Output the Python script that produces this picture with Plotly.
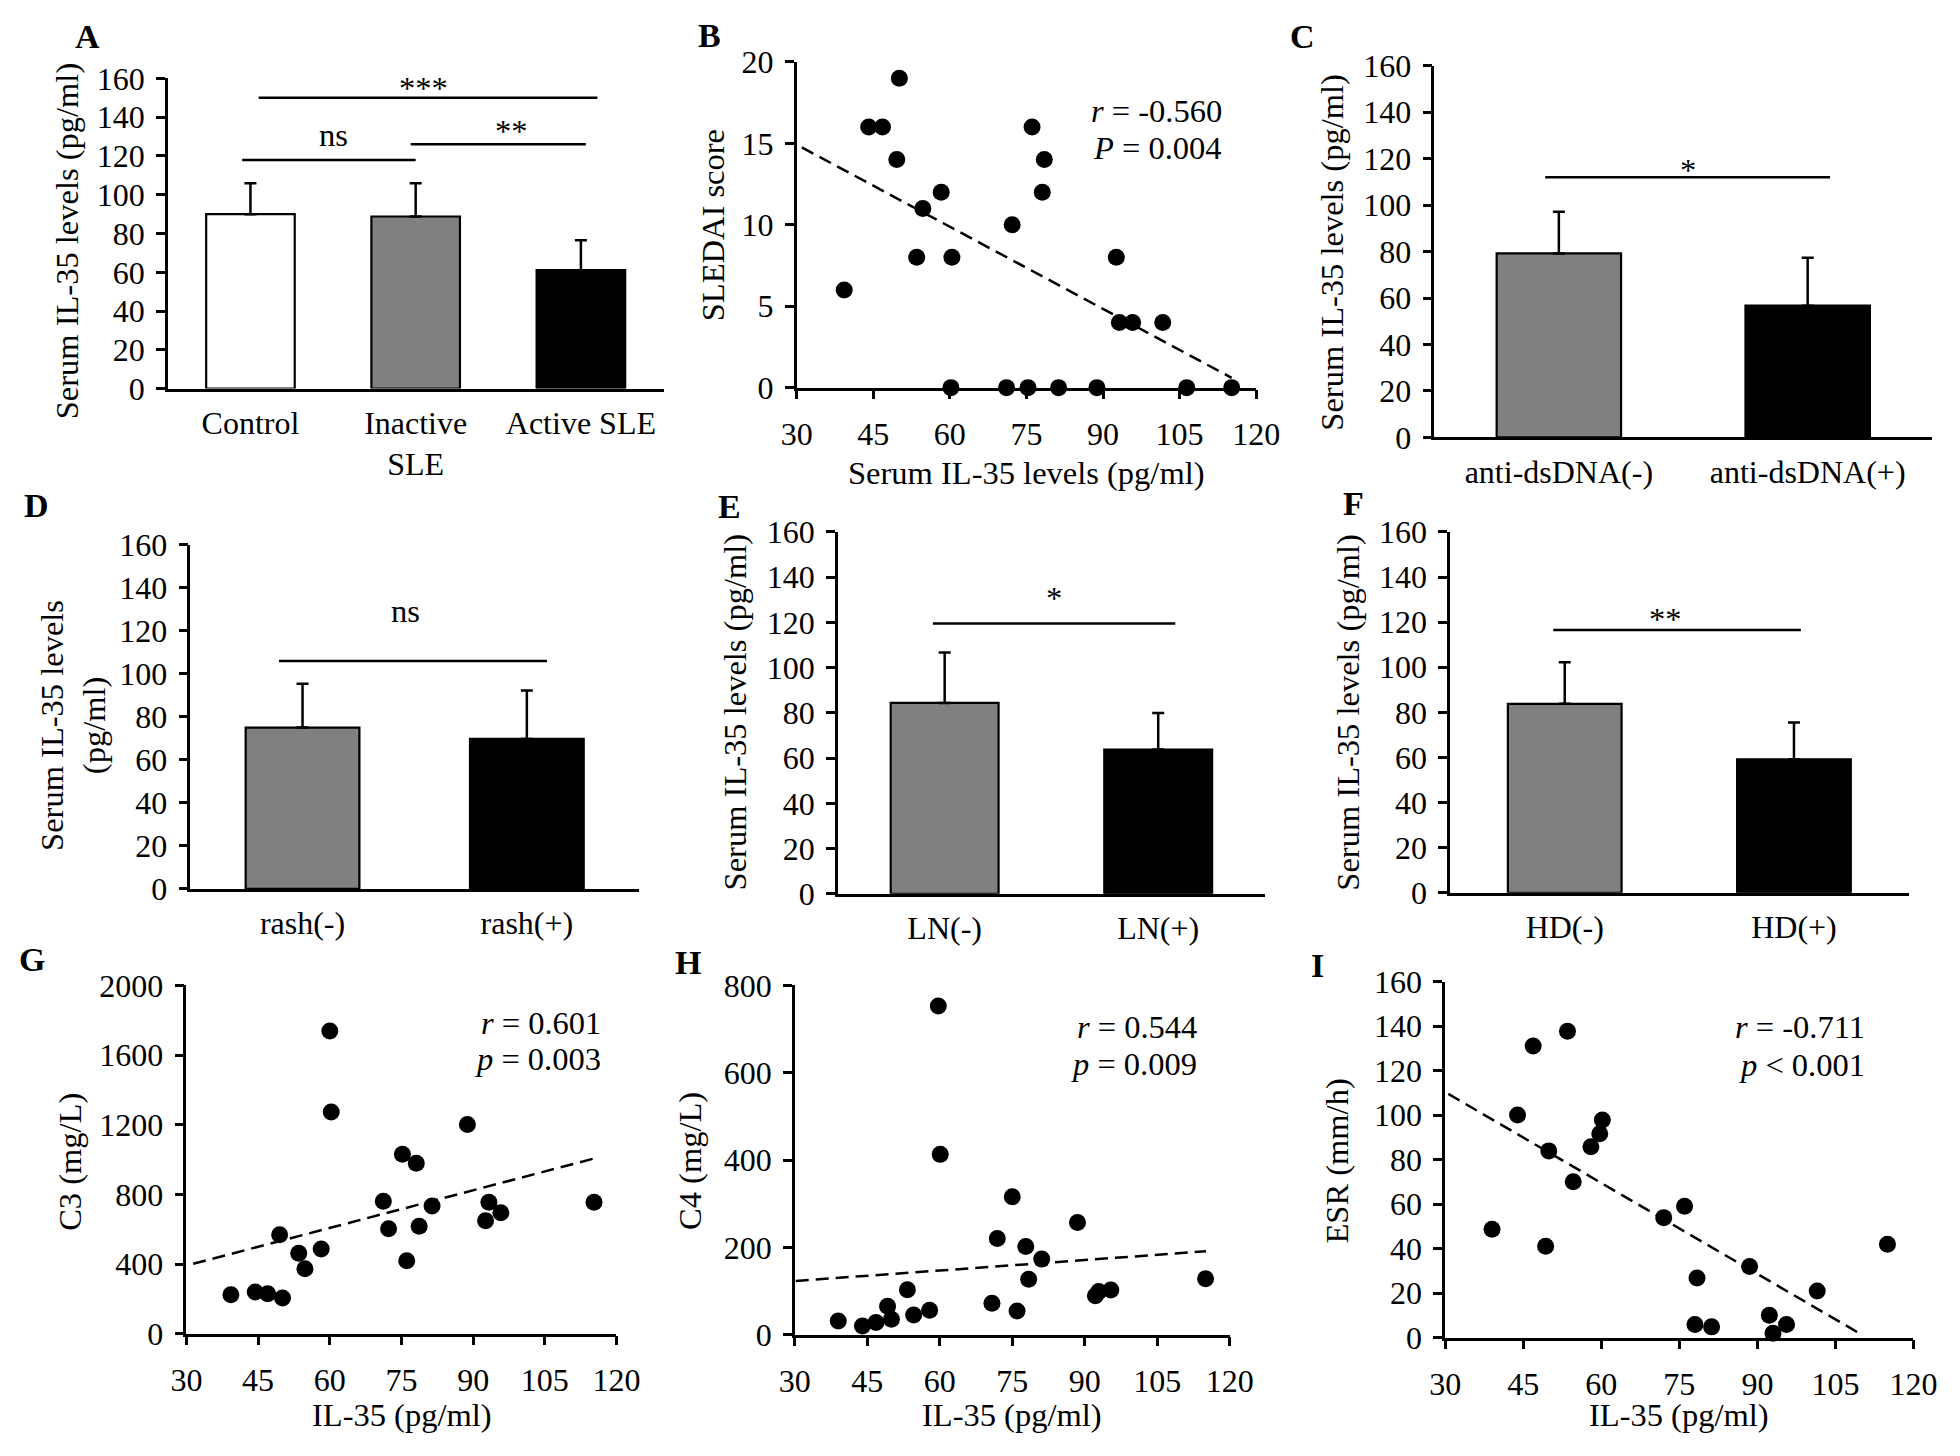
import plotly.graph_objects as go

W, H = 1960, 1456
FONT = "Liberation Serif"
FS = 32.5      # titles / annotations
TFS = 32       # tick labels

# ---------------- DATA ----------------
A_categories = ["Control", "Inactive<br>SLE", "Active SLE"]
A_means = [90.0, 88.8, 61.1]
A_sd = [16.0, 17.2, 15.5]

C_categories = ["anti-dsDNA(-)", "anti-dsDNA(+)"]
C_means = [79.2, 56.7]
C_sd = [17.9, 20.6]

D_categories = ["rash(-)", "rash(+)"]
D_means = [75.0, 69.7]
D_sd = [20.4, 22.5]

E_categories = ["LN(-)", "LN(+)"]
E_means = [84.4, 63.8]
E_sd = [22.3, 16.1]

F_categories = ["HD(-)", "HD(+)"]
F_means = [83.8, 59.2]
F_sd = [18.4, 16.3]

B_il35 = [39.3, 44.1, 46.8, 50.1, 49.6, 54.7, 53.5, 58.3, 60.4, 60.2, 71.1, 72.2,
          75.3, 76.1, 78.5, 78.1, 81.3, 88.8, 92.6, 93.2, 95.8, 101.7, 106.4, 115.2]
B_sledai = [6, 16, 16, 19, 14, 11, 8, 12, 8, 0, 0, 10,
            0, 16, 14, 12, 0, 0, 8, 4, 4, 4, 0, 0]
B_trend_x = [31.0, 115.2]
B_trend_y = [14.75, 0.6]

G_il35 = [39.3, 44.4, 47.0, 49.5, 50.1, 53.5, 54.8, 58.2, 60.0, 60.3, 71.2,
          72.3, 75.2, 76.1, 78.1, 78.7, 81.4, 88.8, 92.6, 93.3, 95.8, 115.3]
G_c3 = [224, 239, 229, 568, 205, 462, 373, 486, 1739, 1273, 760,
        602, 1031, 419, 979, 617, 733, 1202, 649, 755, 695, 755]
G_trend_x = [31.4, 115.3]
G_trend_y = [401, 1006]

H_il35 = [39.0, 44.0, 46.8, 49.2, 50.0, 53.3, 54.6, 57.9, 59.7, 60.1, 70.8,
          71.9, 75.0, 76.0, 77.8, 78.4, 81.1, 88.5, 92.2, 92.9, 95.4, 115.0]
H_c4 = [31, 20, 28, 65, 35, 103, 45, 56, 753, 413, 72,
        220, 316, 54, 202, 127, 173, 257, 89, 99, 102, 128]
H_trend_x = [30.2, 115.1]
H_trend_y = [123, 191]

I_il35 = [39.0, 43.9, 46.9, 49.3, 49.9, 53.5, 54.6, 58.0, 59.7, 60.2, 72.0,
          76.0, 78.0, 78.4, 81.2, 88.5, 92.3, 93.0, 95.6, 101.5, 115.0]
I_esr = [48.7, 100, 131, 41, 83.9, 137.7, 70, 85.8, 91.6, 97.8, 53.9,
         59, 5.9, 26.8, 4.8, 31.9, 10, 1.9, 5.9, 20.9, 41.9]
I_trend_x = [30.6, 109.6]
I_trend_y = [109.5, 1.9]

# significance brackets: (x start, x end, y line, label, label x, label y)
A_sig = [(-0.05, 1.0, 118, "ns", 0.5, 131),
         (0.97, 2.03, 126, "**", 1.58, 136),
         (0.05, 2.10, 150, "***", 1.05, 158)]
C_sig = [(-0.055, 1.09, 112, "*", 0.52, 117.7)]
D_sig = [(-0.105, 1.09, 105.9, "ns", 0.46, 129)]
E_sig = [(-0.055, 1.08, 119.5, "*", 0.51, 133.6)]
F_sig = [(-0.05, 1.03, 116.5, "**", 0.44, 124)]

# correlation statistics text: (line1, line2, right x, y1, y2)
B_stats = ("<i>r</i> = -0.560", "<i>P</i> = 0.004", 113.7, 17.0, 14.7)
G_stats = ("<i>r</i> = 0.601", "<i>p</i> = 0.003", 117.1, 1787, 1580)
H_stats = ("<i>r</i> = 0.544", "<i>p</i> = 0.009", 113.6, 704, 621)
I_stats = ("<i>r</i> = -0.711", "<i>p</i> < 0.001", 111.0, 139.4, 122.7)

# ---------------- LAYOUT (pixel boxes) ----------------
# panel index: (x_left, x_right, y_top, y_bottom)
boxes = {
    1: (155, 661, 62, 380),     # A
    2: (797, 1266, 45, 379),    # B
    3: (1448, 1956, 49, 430),   # C
    4: (178, 636, 540, 893),    # D
    5: (839, 1275, 527, 898),   # E
    6: (1464, 1932, 527, 897),  # F
    7: (174, 613, 992, 1349),   # G
    8: (795, 1239, 992, 1350),  # H
    9: (1459, 1937, 988, 1353), # I
}


def px(x):
    return x / W


def py(y):
    return 1 - y / H


fig = go.Figure()
layout = dict(
    width=W, height=H, margin=dict(l=0, r=0, t=0, b=0),
    paper_bgcolor="white", plot_bgcolor="rgba(0,0,0,0)",
    showlegend=False, font=dict(family=FONT, size=FS, color="black"),
)
annotations = []

axis_common = dict(showline=True, linecolor="black", linewidth=2.5, showgrid=False,
                   zeroline=False, tickfont=dict(family=FONT, size=TFS, color="black"),
                   tickcolor="black", tickwidth=2.5, fixedrange=True)


def axkey(i, letter):
    return f"{letter}axis" if i == 1 else f"{letter}axis{i}"


def ref(i, letter):
    return letter if i == 1 else f"{letter}{i}"


def setup_axes(i, xkw, ykw):
    x0, x1, y0, y1 = boxes[i]
    xa = dict(axis_common, domain=[px(x0), px(x1)], anchor=ref(i, "y"))
    xa.update(xkw)
    ya = dict(axis_common, domain=[py(y1), py(y0)], anchor=ref(i, "x"),
              ticks="outside", ticklen=9, ticklabelstandoff=5)
    ya.update(ykw)
    layout[axkey(i, "x")] = xa
    layout[axkey(i, "y")] = ya


def bar_panel(i, cats, means, sd, colors, bw, sig):
    pos = list(range(len(cats)))
    fig.add_trace(go.Bar(
        x=pos, y=means, width=bw,
        marker=dict(color=colors, line=dict(color="black", width=2.2)),
        error_y=dict(type="data", symmetric=False, array=sd, arrayminus=[0] * len(sd),
                     color="black", thickness=2.5, width=6),
        xaxis=ref(i, "x"), yaxis=ref(i, "y")))
    setup_axes(i,
               dict(range=[-0.5, len(cats) - 0.5], ticks="", ticklabelstandoff=4,
                    tickvals=pos, ticktext=cats),
               dict(range=[0, 160], tickvals=list(range(0, 161, 20))))
    for (xa, xb, yl, lab, lx, ly) in sig:
        fig.add_trace(go.Scatter(
            x=[xa, xb], y=[yl, yl], mode="lines",
            line=dict(color="black", width=2.5),
            xaxis=ref(i, "x"), yaxis=ref(i, "y"), cliponaxis=False, hoverinfo="skip"))
        shift = -6 if "*" in lab else 0
        annotations.append(dict(x=lx, y=ly, xref=ref(i, "x"), yref=ref(i, "y"),
                                text=lab, showarrow=False, yshift=shift,
                                font=dict(family=FONT, size=FS, color="black")))


def scatter_panel(i, xs, ys, tx, ty, yrange, ydt, stats):
    fig.add_trace(go.Scatter(
        x=tx, y=ty, mode="lines", line=dict(color="black", width=2.5, dash="13px,7px"),
        xaxis=ref(i, "x"), yaxis=ref(i, "y"), hoverinfo="skip"))
    fig.add_trace(go.Scatter(
        x=xs, y=ys, mode="markers", marker=dict(color="black", size=17),
        xaxis=ref(i, "x"), yaxis=ref(i, "y"), cliponaxis=False))
    setup_axes(i,
               dict(range=[30, 120], tickvals=list(range(30, 121, 15)), ticks="outside",
                    ticklen=9, ticklabelstandoff=7),
               dict(range=yrange, tickvals=list(range(yrange[0], yrange[1] + 1, ydt))))
    l1, l2, rx, y1, y2 = stats
    for txt, yy in ((l1, y1), (l2, y2)):
        annotations.append(dict(x=rx, y=yy, xref=ref(i, "x"), yref=ref(i, "y"),
                                text=txt, showarrow=False, xanchor="right", yanchor="middle",
                                font=dict(family=FONT, size=FS, color="black")))


bar_panel(1, A_categories, A_means, A_sd, ["white", "#808080", "black"], 0.536, A_sig)
scatter_panel(2, B_il35, B_sledai, B_trend_x, B_trend_y, [0, 20], 5, B_stats)
bar_panel(3, C_categories, C_means, C_sd, ["#808080", "black"], 0.5, C_sig)
bar_panel(4, D_categories, D_means, D_sd, ["#808080", "black"], 0.507, D_sig)
bar_panel(5, E_categories, E_means, E_sd, ["#808080", "black"], 0.505, E_sig)
bar_panel(6, F_categories, F_means, F_sd, ["#808080", "black"], 0.496, F_sig)
scatter_panel(7, G_il35, G_c3, G_trend_x, G_trend_y, [0, 2000], 400, G_stats)
scatter_panel(8, H_il35, H_c4, H_trend_x, H_trend_y, [0, 800], 200, H_stats)
scatter_panel(9, I_il35, I_esr, I_trend_x, I_trend_y, [0, 160], 20, I_stats)

# axis titles: (text, x px, y px, angle)
titles = [
    ("Serum IL-35 levels (pg/ml)", 52, 228, -90),
    ("SLEDAI score", 711, 212, -90),
    ("Serum IL-35 levels (pg/ml)", 1032, 467, 0),
    ("Serum IL-35 levels (pg/ml)", 1343, 240, -90),
    ("Serum IL-35 levels<br>(pg/ml)", 58, 725, -90),
    ("Serum IL-35 levels (pg/ml)", 734, 712, -90),
    ("Serum IL-35 levels (pg/ml)", 1360, 712, -90),
    ("C3 (mg/L)", 55, 1173, -90),
    ("C4 (mg/L)", 688, 1172, -90),
    ("ESR (mm/h)", 1349, 1172, -90),
    ("IL-35 (pg/ml)", 394, 1432, 0),
    ("IL-35 (pg/ml)", 1017, 1432, 0),
    ("IL-35 (pg/ml)", 1698, 1432, 0),
]
for t, x, y, ang in titles:
    annotations.append(dict(x=px(x), y=py(y), xref="paper", yref="paper", text=t,
                            textangle=ang, showarrow=False, xanchor="center", yanchor="middle",
                            font=dict(family=FONT, size=FS, color="black")))

letters = [("A", 73, 19), ("B", 708, 18), ("C", 1313, 19), ("D", 21, 500), ("E", 728, 501),
           ("F", 1365, 498), ("G", 16, 965), ("H", 686, 968), ("I", 1329, 972)]
for t, x, y in letters:
    annotations.append(dict(x=px(x), y=py(y), xref="paper", yref="paper", text=f"<b>{t}</b>",
                            showarrow=False, xanchor="center", yanchor="middle",
                            font=dict(family=FONT, size=34, color="black")))

layout["annotations"] = annotations
fig.update_layout(**layout)
fig.write_html("out.html", config={"displayModeBar": False},
               post_script="document.body.style.margin='0px';")
